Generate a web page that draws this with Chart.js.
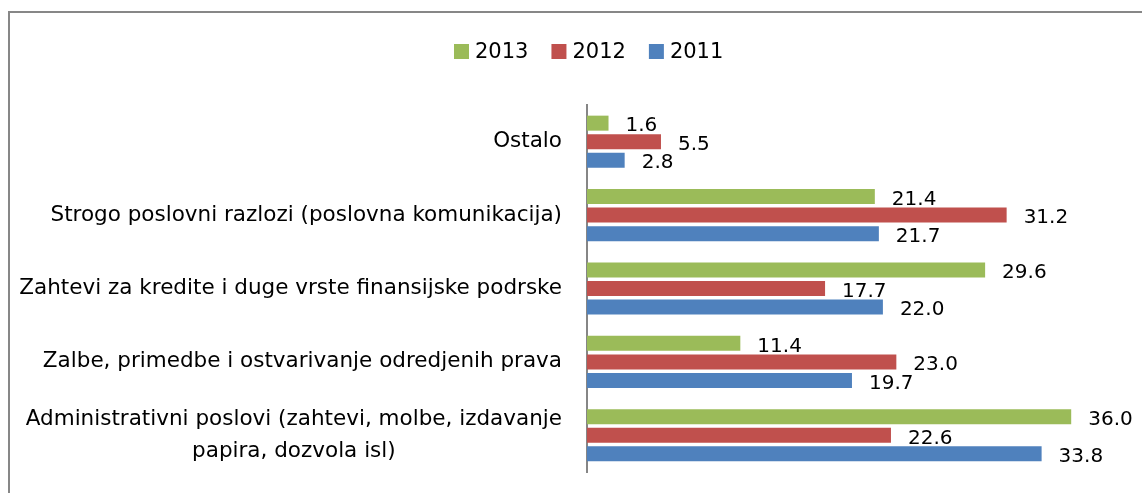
<!DOCTYPE html>
<html>
<head>
<meta charset="utf-8">
<script src="https://cdn.jsdelivr.net/npm/chart.js@4"></script>
<style>
  html, body { margin: 0; padding: 0; background: #fff; overflow: hidden; }
  #frame { position: absolute; left: 8px; top: 11px; width: 1300px; height: 700px; border: 2px solid #878787; box-sizing: border-box; }
  #wrap { position: absolute; left: 0; top: 0; width: 1142px; height: 493px; }
</style>
</head>
<body>
<div id="frame"></div>
<div id="wrap"><canvas id="c" width="1142" height="493"></canvas></div>
<script>
const categories = [
  'Ostalo',
  'Strogo poslovni razlozi (poslovna komunikacija)',
  'Zahtevi za kredite i duge vrste finansijske podrske',
  'Zalbe, primedbe i ostvarivanje odredjenih prava',
  ['Administrativni poslovi (zahtevi, molbe, izdavanje', 'papira, dozvola isl)']
];
const seriesNames = ['2013', '2012', '2011'];
const values2013 = [1.6, 21.4, 29.6, 11.4, 36.0];
const values2012 = [5.5, 31.2, 17.7, 23.0, 22.6];
const values2011 = [2.8, 21.7, 22.0, 19.7, 33.8];
const colors = ['#9BBB59', '#C0504D', '#4F81BD'];

const textPlugin = {
  id: 'textPlugin',
  afterDraw(chart) {
    const ctx = chart.ctx;
    const ys = chart.scales.y;
    ctx.save();
    ctx.fillStyle = '#000';
    // category labels (multi-line centered, block right-aligned)
    ctx.font = '21.5px "DejaVu Sans"';
    ctx.textBaseline = 'middle';
    ctx.textAlign = 'center';
    const rightEdge = ys.right - 25;
    categories.forEach((lab, i) => {
      const lines = Array.isArray(lab) ? lab : [lab];
      const w = Math.max(...lines.map(l => ctx.measureText(l).width));
      const cx = rightEdge - w / 2;
      const cy = ys.getPixelForTick(i);
      const lh = 32;
      lines.forEach((l, j) => ctx.fillText(l, cx, cy + (j - (lines.length - 1) / 2) * lh));
    });
    // data labels
    ctx.font = '20px "DejaVu Sans"';
    ctx.textAlign = 'left';
    chart.data.datasets.forEach((ds, di) => {
      chart.getDatasetMeta(di).data.forEach((bar, i) => {
        ctx.fillText(ds.data[i].toFixed(1), bar.x + 17, bar.y + 3);
      });
    });
    // legend
    ctx.font = '21px "DejaVu Sans"';
    let x = 454;
    const by = 44, bs = 15;
    chart.data.datasets.forEach((ds) => {
      ctx.fillStyle = ds.backgroundColor;
      ctx.fillRect(x, by, bs, bs);
      ctx.fillStyle = '#000';
      ctx.fillText(ds.label, x + bs + 6, by + bs / 2 + 1);
      x += bs + 6 + ctx.measureText(ds.label).width + 23;
    });
    ctx.restore();
  }
};

new Chart(document.getElementById('c'), {
  type: 'bar',
  data: {
    labels: categories,
    datasets: [
      { label: seriesNames[0], data: values2013, backgroundColor: colors[0] },
      { label: seriesNames[1], data: values2012, backgroundColor: colors[1] },
      { label: seriesNames[2], data: values2011, backgroundColor: colors[2] }
    ]
  },
  options: {
    indexAxis: 'y',
    responsive: false,
    animation: false,
    devicePixelRatio: 1,
    categoryPercentage: 0.758,
    barPercentage: 0.81,
    layout: { padding: { left: 0, right: 17, top: 105, bottom: 21 } },
    plugins: { legend: { display: false }, tooltip: { enabled: false } },
    scales: {
      x: { display: false, min: 0, max: 40 },
      y: {
        ticks: { display: false },
        grid: { display: false },
        border: { display: true, color: '#868686', width: 2 },
        afterFit(scale) { scale.width = 587; }
      }
    }
  },
  plugins: [textPlugin]
});
</script>
</body>
</html>
